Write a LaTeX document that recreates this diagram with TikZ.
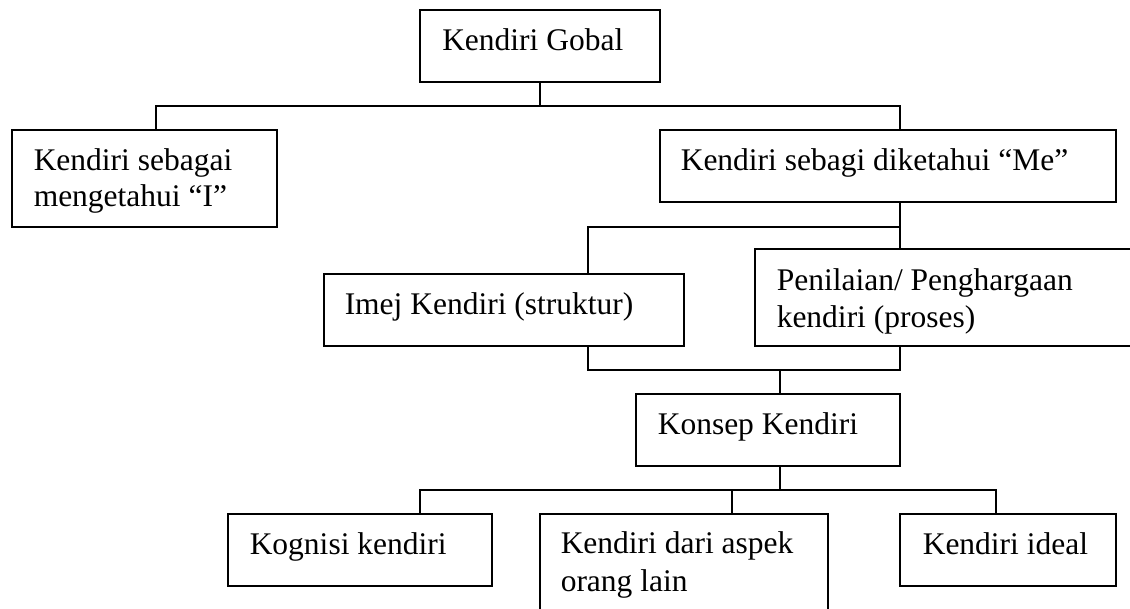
\documentclass[tikz,border=0pt]{standalone}
\usepackage{fontspec}
\setmainfont{Liberation Serif}
\begin{document}
\begin{tikzpicture}[x=1pt,y=-1pt, line width=1.5pt,
  box/.style={draw, inner sep=0pt, outer sep=0pt, anchor=north west},
  lbl/.style={anchor=base west, inner sep=0pt, font=\fontsize{31.5}{36.7}\selectfont}]
\useasboundingbox (0,0) rectangle (1130,608);
\fill[white] (0,0) rectangle (1130,608);
\clip (0,0) rectangle (1130,608);
% boxes
\node[box, minimum width=240pt, minimum height=72pt] (g) at (420,10) {};
\node[box, minimum width=265pt, minimum height=97pt] (I) at (12,130) {};
\node[box, minimum width=456pt, minimum height=72pt] (Me) at (660,130) {};
\node[box, minimum width=360pt, minimum height=72pt] (im) at (324,274) {};
\node[box, minimum width=395pt, minimum height=97pt] (pen) at (755,249) {};
\node[box, minimum width=264pt, minimum height=72pt] (ks) at (636,394) {};
\node[box, minimum width=264pt, minimum height=72pt] (kg) at (228,514) {};
\node[box, minimum width=288pt, minimum height=110pt] (as) at (540,514) {};
\node[box, minimum width=216pt, minimum height=72pt] (id) at (900,514) {};
% labels
\node[lbl] (tg) at (441.5,50.7) {Kendiri Gobal};
\node[lbl] (tI1) at (33,170) {Kendiri sebagai};
\node[lbl] (tI2) at (33,206.7) {mengetahui “I”};
\node[lbl] (tMe) at (680,170) {Kendiri sebagi diketahui “Me”};
\node[lbl] (tim) at (344,314) {Imej Kendiri (struktur)};
\node[lbl] (tpen1) at (776,290.5) {Penilaian/ Penghargaan};
\node[lbl] (tpen2) at (776,327) {kendiri (proses)};
\node[lbl] (tks) at (657,434) {Konsep Kendiri};
\node[lbl] (tkg) at (249,554) {Kognisi kendiri};
\node[lbl] (tas1) at (560,553.5) {Kendiri dari aspek};
\node[lbl] (tas2) at (560,591) {orang lain};
\node[lbl] (tid) at (922,554) {Kendiri ideal};
% connector points
\coordinate (b1) at (540,106);
\coordinate (iT) at (156,130);
\coordinate (meT) at (900,130);
\coordinate (meB) at (900,202);
\coordinate (b2) at (900,227);
\coordinate (penT) at (900,249);
\coordinate (imT) at (588,274);
\coordinate (imB) at (588,346);
\coordinate (penB) at (900,346);
\coordinate (b3) at (780,370);
\coordinate (ksT) at (780,394);
\coordinate (ksB) at (780,466);
\coordinate (b4) at (780,490);
\coordinate (kgT) at (420,514);
\coordinate (asT) at (732,514);
\coordinate (idT) at (996,514);
% connectors
\draw (g.south) -- (b1);
\draw (iT) |- (b1) -| (meT);
\draw (meB) -- (penT);
\draw (imT) |- (b2);
\draw (imB) |- (b3) -| (penB);
\draw (b3) -- (ksT);
\draw (ksB) -- (b4);
\draw (kgT) |- (b4) -| (idT);
\draw (asT) -- (asT |- b4);
\end{tikzpicture}
\end{document}
